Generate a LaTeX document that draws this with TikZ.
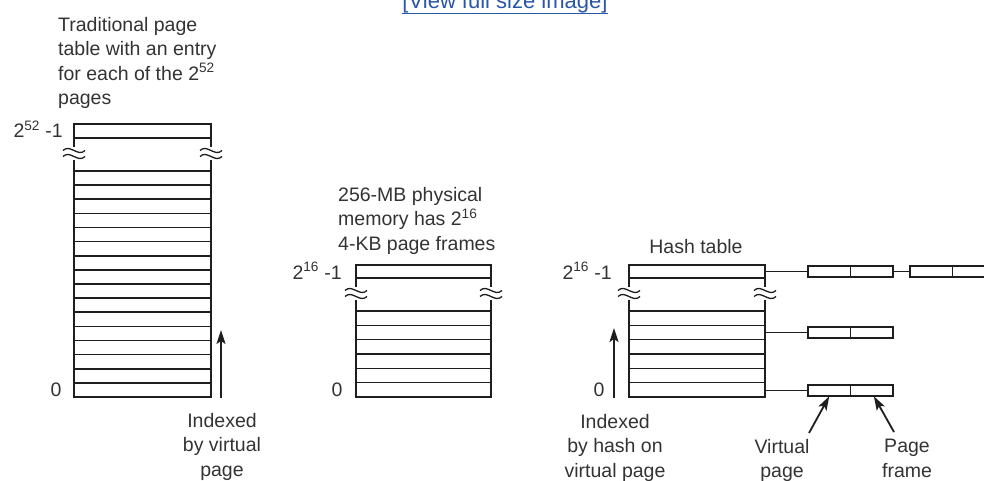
\documentclass[tikz,border=0pt]{standalone}
\usepackage{fontspec}
\setmainfont{Liberation Sans}
\usetikzlibrary{arrows.meta,positioning}
\definecolor{inkline}{HTML}{1E1E1E}
\definecolor{inktext}{HTML}{333333}
\definecolor{linkblue}{HTML}{2A56A8}

\begin{document}
\begin{tikzpicture}[x=1pt,y=-1pt,font=\fontsize{19.5}{24.5}\selectfont]

        % Stili
        \tikzset{
          tbl/.style={draw=inkline, line width=1.6pt},
          cell/.style={draw=inkline, line width=1.6pt, minimum width=42.5pt,
                       minimum height=11.5pt, inner sep=0pt, outer sep=0pt},
          lbl/.style={text=inktext, inner sep=0pt},
          idx/.style={draw=inkline, line width=1.8pt, -{Stealth[length=14pt,width=9pt,inset=3pt]}}
        }

        % Cornice della figura
        \useasboundingbox (0,0) rectangle (984,481);
        \clip (0,0) rectangle (984,481);

        % Link in alto (tagliato)
        \node[lbl, text=linkblue, anchor=base, font=\fontsize{22}{24}\selectfont] (link) at (505,9) {[View full size image]};
        \draw[linkblue, line width=1pt] (link.south west) -- (link.south east);

        % Tabella tradizionale (2^52 righe)
        \draw[tbl] (74,147) -- (74,124) -- (211,124) -- (211,147);
        \draw[tbl] (74,138) -- (211,138);
        \draw[tbl] (74,160) -- (74,397) -- (211,397) -- (211,160);
        \foreach \i in {0,...,15}
          \draw[tbl] (74,{171+14.125*\i}) -- (211,{171+14.125*\i});

        % Memoria fisica (2^16 frame)
        \draw[tbl] (356,287) -- (356,265) -- (491,265) -- (491,287);
        \draw[tbl] (356,278) -- (491,278);
        \draw[tbl] (356,300) -- (356,397) -- (491,397) -- (491,300);
        \foreach \i in {0,...,5}
          \draw[tbl] (356,{311+14.333*\i}) -- (491,{311+14.333*\i});

        % Tabella hash
        \draw[tbl] (629,287) -- (629,265) -- (765,265) -- (765,287);
        \draw[tbl] (629,278) -- (765,278);
        \draw[tbl] (629,300) -- (629,397) -- (765,397) -- (765,300);
        \foreach \i in {0,...,5}
          \draw[tbl] (629,{311+14.333*\i}) -- (765,{311+14.333*\i});

        % Simboli di interruzione
        \foreach \sx/\sy in {74/153.5,211/153.5,356/293.5,491/293.5,629/293.5,765/293.5} {
          \draw[tbl, line width=1.3pt] (\sx-11,\sy-3) .. controls (\sx-4,\sy-10) and (\sx+4,\sy+4) .. (\sx+11,\sy-3);
          \draw[tbl, line width=1.3pt] (\sx-11,\sy+3) .. controls (\sx-4,\sy-4) and (\sx+4,\sy+10) .. (\sx+11,\sy+3);
        }

        % Titoli
        \node[lbl, anchor=north west, align=left] (tradlbl) at (58,17)
          {Traditional page\\table with an entry\\for each of the 2\textsuperscript{52}\\pages};
        \node[lbl, anchor=north west, align=left] (physlbl) at (338,187)
          {256-MB physical\\memory has 2\textsuperscript{16}\\4-KB page frames};
        \node[lbl, anchor=base] (hashlbl) at (696,253) {Hash table};

        % Indici estremi
        \node[lbl, anchor=base east] (tradtop) at (63,138) {2\textsuperscript{52} -1};
        \node[lbl, anchor=base] (tradzero) at (56,396) {0};
        \node[lbl, anchor=base east] (phystop) at (342,279) {2\textsuperscript{16} -1};
        \node[lbl, anchor=base] (physzero) at (337,396) {0};
        \node[lbl, anchor=base east] (hashtop) at (612,279) {2\textsuperscript{16} -1};
        \node[lbl, anchor=base] (hashzero) at (599,396) {0};

        % Frecce di indicizzazione
        \coordinate (tradfoot) at (221,398);
        \coordinate (tradtip) at (221,330);
        \draw[idx] (tradfoot) -- (tradtip);
        \node[lbl, anchor=north, align=center] (tradidx) at (222,413) {Indexed\\by virtual\\page};

        \coordinate (hashfoot) at (614,398);
        \coordinate (hashtip) at (614,328);
        \draw[idx] (hashfoot) -- (hashtip);
        \node[lbl, anchor=north, align=center] (hashidx) at (615,414) {Indexed\\by hash on\\virtual page};

        % Catene della tabella hash
        \coordinate (hrowtop) at (765,271.5);
        \coordinate (hrowmid) at (765,332.5);
        \coordinate (hrowzero) at (765,390.5);

        \node[cell, anchor=west] (vpa) at (808,271.5) {};
        \node[cell, right=0pt of vpa] (pfa) {};
        \node[cell, right=17pt of pfa] (vpb) {};
        \node[cell, right=0pt of vpb] (pfb) {};
        \node[cell, anchor=west] (vpc) at (808,332.5) {};
        \node[cell, right=0pt of vpc] (pfc) {};
        \node[cell, anchor=west] (vpd) at (808,390.5) {};
        \node[cell, right=0pt of vpd] (pfd) {};

        \draw[tbl] (hrowtop) -- (vpa);
        \draw[tbl] (pfa) -- (vpb);
        \draw[tbl] (hrowmid) -- (vpc);
        \draw[tbl] (hrowzero) -- (vpd);

        % Campi della voce
        \node[lbl, anchor=north, align=center] (vplbl) at (782,439) {Virtual\\page};
        \node[lbl, anchor=north, align=center] (pflbl) at (907,439) {Page\\frame};
        \coordinate (vptail) at (809,433);
        \coordinate (pftail) at (894,432);
        \draw[idx] (vptail) -- (vpd.south);
        \draw[idx] (pftail) -- (pfd.-70);

\end{tikzpicture}
\end{document}
